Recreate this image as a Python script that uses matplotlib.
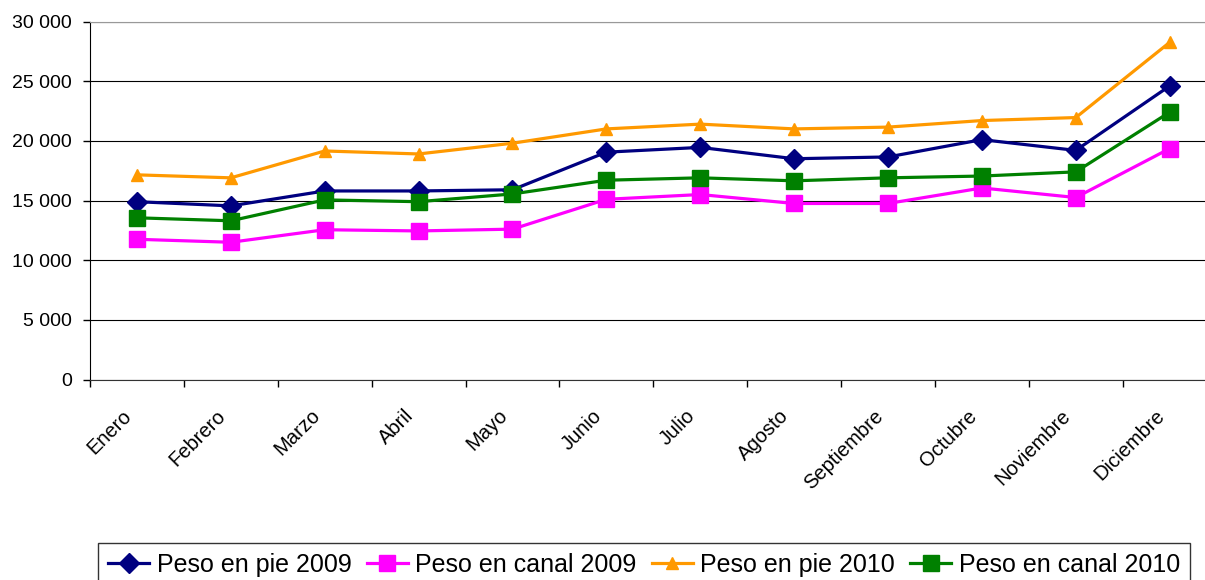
import matplotlib
matplotlib.use("Agg")
import matplotlib.pyplot as plt
from matplotlib.ticker import FuncFormatter, MultipleLocator
from matplotlib.transforms import ScaledTranslation

plt.rcParams["font.family"] = ["Liberation Sans", "DejaVu Sans"]

meses = ["Enero", "Febrero", "Marzo", "Abril", "Mayo", "Junio", "Julio",
         "Agosto", "Septiembre", "Octubre", "Noviembre", "Diciembre"]
pie_2009 = [14900, 14550, 15800, 15800, 15900, 19050, 19450, 18500, 18650, 20100, 19200, 24600]
canal_2009 = [11750, 11500, 12550, 12450, 12600, 15100, 15500, 14750, 14750, 16050, 15250, 19350]
pie_2010 = [17150, 16900, 19150, 18900, 19800, 21000, 21400, 21000, 21150, 21700, 21950, 28250]
canal_2010 = [13550, 13300, 15050, 14900, 15550, 16700, 16900, 16650, 16900, 17050, 17400, 22400]

fig = plt.figure(figsize=(12.05, 5.8), dpi=100)
ax = fig.add_axes([90 / 1205, 200.5 / 580, 1126.6 / 1205, 358 / 580])

x = range(len(meses))
ax.plot(x, pie_2009, color="#000080", lw=2.3, marker="D", ms=10, label="Peso en pie 2009")
ax.plot(x, canal_2009, color="#FF00FF", lw=2.3, marker="s", ms=11.5, label="Peso en canal 2009")
ax.plot(x, pie_2010, color="#FF9900", lw=2.3, marker="^", ms=8.5, label="Peso en pie 2010")
ax.plot(x, canal_2010, color="#008000", lw=2.3, marker="s", ms=11, label="Peso en canal 2010")

ax.set_xlim(-0.5, 11.5)
ax.set_ylim(0, 30000)
ax.yaxis.set_major_locator(MultipleLocator(5000))
ax.yaxis.set_major_formatter(FuncFormatter(lambda v, p: f"{int(v):,}".replace(",", " ")))
ax.grid(axis="y", color="black", lw=0.8)
ax.set_axisbelow(True)

ax.set_xticks(list(x))
ax.set_xticklabels(meses, rotation=45, ha="right", va="center", rotation_mode="anchor")
ax.set_xticks([i + 0.5 for i in range(-1, 12)], minor=True)
ax.tick_params(axis="x", which="major", length=0, pad=24, labelsize=14.5)
ax.tick_params(axis="x", which="minor", length=5, width=1, color="black")
ax.tick_params(axis="y", length=5, width=1, pad=8, labelsize=14)
for lab in ax.get_xticklabels():
    lab.set_transform(lab.get_transform() + ScaledTranslation(-0.08, 0, fig.dpi_scale_trans))

ax.spines["right"].set_visible(False)
ax.spines["top"].set_color("#999999")
ax.spines["left"].set_color("black")
ax.spines["bottom"].set_color("#333333")

leg = fig.legend(loc="upper left", bbox_to_anchor=(98 / 1205, 37 / 580), ncol=4,
                 fontsize=18, frameon=True, fancybox=False, edgecolor="black",
                 handlelength=1.65, handletextpad=0.3, columnspacing=0.6,
                 borderpad=0.4, borderaxespad=0)
leg.get_frame().set_linewidth(1)

fig.savefig("out.png", dpi=100)
